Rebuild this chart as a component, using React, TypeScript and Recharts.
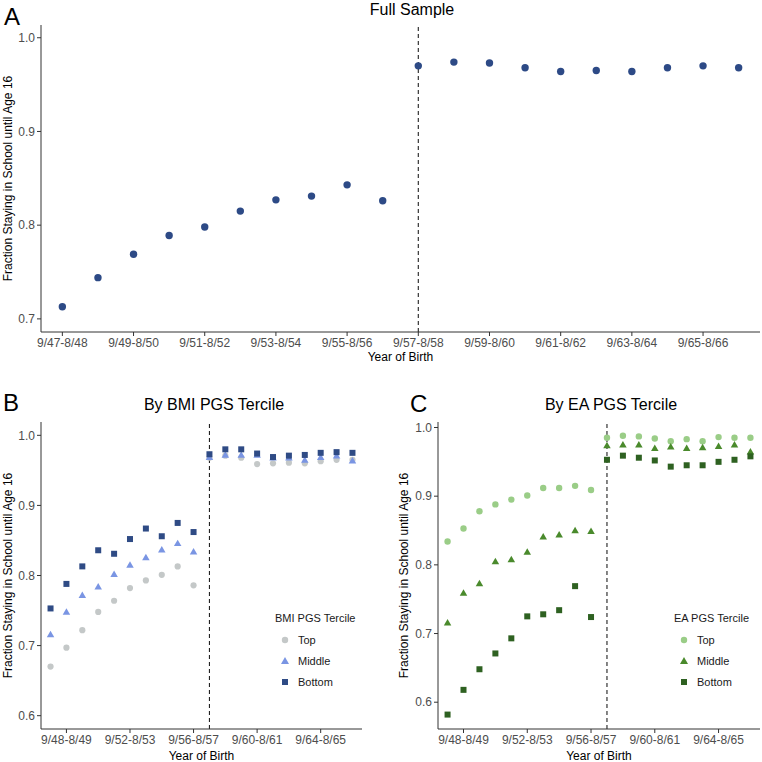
import React from 'react';
import { ScatterChart, Scatter, XAxis, YAxis, ReferenceLine, Legend } from 'recharts';

const cohorts = [
  '9/47-8/48', '9/48-8/49', '9/49-8/50', '9/50-8/51', '9/51-8/52',
  '9/52-8/53', '9/53-8/54', '9/54-8/55', '9/55-8/56', '9/56-8/57',
  '9/57-8/58', '9/58-8/59', '9/59-8/60', '9/60-8/61', '9/61-8/62',
  '9/62-8/63', '9/63-8/64', '9/64-8/65', '9/65-8/66', '9/66-8/67',
];
const ticksA = [0, 2, 4, 6, 8, 10, 12, 14, 16, 18];
const ticksBC = [1, 5, 9, 13, 17];
const yTicksA = [0.7, 0.8, 0.9, 1.0];
const yTicksBC = [0.6, 0.7, 0.8, 0.9, 1.0];
const reformIndex = 10;
const legendOrder = ['Top', 'Middle', 'Bottom'];

const fullSample = [0.713, 0.744, 0.769, 0.789, 0.798, 0.815, 0.827, 0.831, 0.843, 0.826,
  0.970, 0.974, 0.973, 0.968, 0.964, 0.965, 0.964, 0.968, 0.970, 0.968];

const bmiTop = [0.670, 0.697, 0.722, 0.748, 0.764, 0.782, 0.793, 0.801, 0.813, 0.786,
  0.968, 0.971, 0.968, 0.959, 0.960, 0.961, 0.960, 0.963, 0.965, 0.965];
const bmiMiddle = [0.715, 0.747, 0.771, 0.783, 0.801, 0.814, 0.825, 0.836, 0.845, 0.833,
  0.968, 0.971, 0.971, 0.971, 0.967, 0.967, 0.964, 0.968, 0.970, 0.963];
const bmiBottom = [0.753, 0.788, 0.813, 0.836, 0.831, 0.852, 0.867, 0.856, 0.875, 0.862,
  0.973, 0.980, 0.980, 0.974, 0.969, 0.971, 0.972, 0.975, 0.976, 0.975];

const eaTop = [0.834, 0.853, 0.878, 0.888, 0.895, 0.901, 0.912, 0.912, 0.915, 0.909,
  0.985, 0.988, 0.987, 0.984, 0.980, 0.983, 0.980, 0.986, 0.985, 0.985];
const eaMiddle = [0.715, 0.758, 0.772, 0.804, 0.807, 0.818, 0.840, 0.843, 0.849, 0.848,
  0.973, 0.974, 0.974, 0.969, 0.971, 0.969, 0.970, 0.972, 0.974, 0.964];
const eaBottom = [0.582, 0.618, 0.648, 0.671, 0.693, 0.725, 0.728, 0.734, 0.769, 0.724,
  0.953, 0.959, 0.956, 0.952, 0.943, 0.945, 0.945, 0.950, 0.953, 0.958];

const FONT = '"Liberation Sans", Arial, Helvetica, sans-serif';
const TICK = { fill: '#4D4D4D', fontSize: 12, fontFamily: FONT };
const AXIS_COLOR = '#333333';

const toPoints = (vals: number[]) => vals.map((y, i) => ({ x: i, y }));

const circleShape = (r: number, color: string) => (p: any) =>
  <circle cx={p.cx} cy={p.cy} r={r} fill={color} />;
const squareShape = (s: number, color: string) => (p: any) =>
  <rect x={p.cx - s / 2} y={p.cy - s / 2} width={s} height={s} fill={color} />;
const triangleShape = (s: number, color: string) => (p: any) => {
  const h = s * 0.866;
  return (
    <polygon
      points={`${p.cx},${p.cy - (2 * h) / 3} ${p.cx - s / 2},${p.cy + h / 3} ${p.cx + s / 2},${p.cy + h / 3}`}
      fill={color}
    />
  );
};

const markerIcon = (type: string, color: string) => {
  if (type === 'triangle') return <polygon points="5,1 9,8 1,8" fill={color} />;
  if (type === 'square') return <rect x={2} y={2} width={6} height={6} fill={color} />;
  return <circle cx={5} cy={5} r={3.2} fill={color} />;
};

const makeLegend = (title: string) => (props: any) => {
  const payload = [...(props.payload || [])].sort(
    (a: any, b: any) => legendOrder.indexOf(a.value) - legendOrder.indexOf(b.value),
  );
  return (
    <div style={{ fontFamily: FONT, fontSize: 11, color: '#1a1a1a', textAlign: 'left' }}>
      <div style={{ height: 21, lineHeight: '21px', whiteSpace: 'nowrap' }}>{title}</div>
      {payload.map((e: any) => (
        <div key={e.value} style={{ height: 21, display: 'flex', alignItems: 'center', whiteSpace: 'nowrap' }}>
          <svg width={10} height={10} style={{ marginLeft: 5, marginRight: 8 }}>
            {markerIcon(e.type, e.color)}
          </svg>
          <span>{e.value}</span>
        </div>
      ))}
    </div>
  );
};

type Series = { name: string; values: number[]; color: string; type: 'circle' | 'triangle' | 'square' };

function Panel(props: {
  left: number; top: number; width: number; height: number;
  margin: { top: number; right: number; bottom: number; left: number };
  yWidth: number; xHeight: number;
  yDomain: [number, number]; yTicks: number[]; xTicks: number[];
  series: Series[];
  yLabelX: number; xLabelDy: number;
  legendTitle?: string; legendLeft?: number; legendTop?: number;
  shapeSize: number; circleR: number;
}) {
  const p = props;
  const shapeFor = (s: Series) =>
    s.type === 'square' ? squareShape(p.shapeSize, s.color)
      : s.type === 'triangle' ? triangleShape(p.shapeSize + 1.5, s.color)
        : circleShape(p.circleR, s.color);
  return (
    <div style={{ position: 'absolute', left: p.left, top: p.top }}>
      <ScatterChart width={p.width} height={p.height} margin={p.margin}>
        <XAxis
          type="number"
          dataKey="x"
          domain={[-0.6, 19.6]}
          ticks={p.xTicks}
          interval={0}
          tickFormatter={(v: number) => cohorts[v]}
          tick={TICK}
          tickSize={4}
          tickMargin={2}
          height={p.xHeight}
          stroke={AXIS_COLOR}
          allowDataOverflow
          label={{
            content: (lp: any) => {
              const vb = lp.viewBox || {};
              return (
                <text
                  x={vb.x + vb.width / 2}
                  y={vb.y + p.xLabelDy}
                  textAnchor="middle"
                  dominantBaseline="central"
                  fontSize={12}
                  fontFamily={FONT}
                  fill="#000"
                >
                  Year of Birth
                </text>
              );
            },
          }}
        />
        <YAxis
          type="number"
          dataKey="y"
          domain={p.yDomain}
          ticks={p.yTicks}
          interval={0}
          tickFormatter={(v: number) => v.toFixed(1)}
          tick={TICK}
          tickSize={4}
          tickMargin={2}
          width={p.yWidth}
          stroke={AXIS_COLOR}
          allowDataOverflow
          label={{
            content: (lp: any) => {
              const vb = lp.viewBox || {};
              const cy = vb.y + vb.height / 2;
              return (
                <text
                  x={p.yLabelX}
                  y={cy}
                  transform={`rotate(-90, ${p.yLabelX}, ${cy})`}
                  textAnchor="middle"
                  dominantBaseline="central"
                  fontSize={12}
                  fontFamily={FONT}
                  fill="#000"
                >
                  Fraction Staying in School until Age 16
                </text>
              );
            },
          }}
        />
        <ReferenceLine x={reformIndex} stroke="#222" strokeDasharray="4 3" strokeWidth={1.1} />
        {p.series.map((s) => (
          <Scatter
            key={s.name}
            name={s.name}
            data={toPoints(s.values)}
            fill={s.color}
            legendType={s.type}
            shape={shapeFor(s)}
            isAnimationActive={false}
          />
        ))}
        {p.legendTitle ? (
          <Legend
            layout="vertical"
            align="center"
            verticalAlign="middle"
            content={makeLegend(p.legendTitle)}
            wrapperStyle={{ position: 'absolute', left: p.legendLeft, top: p.legendTop, width: 110, height: 84, margin: 0 }}
          />
        ) : null}
      </ScatterChart>
    </div>
  );
}

const textBox = (text: string, cx: number, cy: number, size: number, align: 'center' | 'left' = 'center') => (
  <div
    style={{
      position: 'absolute',
      left: align === 'center' ? cx - 150 : cx,
      top: cy - size * 0.6,
      width: align === 'center' ? 300 : 50,
      height: size * 1.2,
      lineHeight: `${size * 1.2}px`,
      fontSize: size,
      fontFamily: FONT,
      textAlign: align,
      color: '#000',
      whiteSpace: 'nowrap',
    }}
  >
    {text}
  </div>
);

export default function App() {
  return (
    <div style={{ position: 'absolute', left: 0, top: 0, width: 762, height: 762, background: '#fff', overflow: 'hidden' }}>
      <Panel
        left={0} top={0} width={762} height={370}
        margin={{ top: 25, right: 2, bottom: 0, left: 0 }}
        yWidth={41} xHeight={38}
        yDomain={[0.686, 1.0136]} yTicks={yTicksA} xTicks={ticksA}
        series={[{ name: 'Full Sample', values: fullSample, color: '#2D4A86', type: 'circle' }]}
        yLabelX={8} xLabelDy={25}
        shapeSize={6.5} circleR={3.7}
      />
      <Panel
        left={0} top={380} width={381} height={382}
        margin={{ top: 42, right: 19, bottom: 0, left: 0 }}
        yWidth={41} xHeight={33}
        yDomain={[0.581, 1.019]} yTicks={yTicksBC} xTicks={ticksBC}
        series={[
          { name: 'Top', values: bmiTop, color: '#C4C8C8', type: 'circle' },
          { name: 'Middle', values: bmiMiddle, color: '#7A95E3', type: 'triangle' },
          { name: 'Bottom', values: bmiBottom, color: '#2F4B85', type: 'square' },
        ]}
        yLabelX={8} xLabelDy={27}
        legendTitle="BMI PGS Tercile" legendLeft={275} legendTop={228}
        shapeSize={6} circleR={3.1}
      />
      <Panel
        left={381} top={380} width={381} height={382}
        margin={{ top: 42, right: 2, bottom: 0, left: 0 }}
        yWidth={57} xHeight={33}
        yDomain={[0.561, 1.008]} yTicks={yTicksBC} xTicks={ticksBC}
        series={[
          { name: 'Top', values: eaTop, color: '#9ACD87', type: 'circle' },
          { name: 'Middle', values: eaMiddle, color: '#4A8A2C', type: 'triangle' },
          { name: 'Bottom', values: eaBottom, color: '#2E6121', type: 'square' },
        ]}
        yLabelX={23} xLabelDy={27}
        legendTitle="EA PGS Tercile" legendLeft={293} legendTop={228}
        shapeSize={6} circleR={3.2}
      />
      {textBox('Full Sample', 412, 10, 16)}
      {textBox('By BMI PGS Tercile', 214, 405, 16)}
      {textBox('By EA PGS Tercile', 611, 405, 16)}
      {textBox('A', 4, 17, 24, 'left')}
      {textBox('B', 3, 403, 24, 'left')}
      {textBox('C', 410, 404, 24, 'left')}
    </div>
  );
}
